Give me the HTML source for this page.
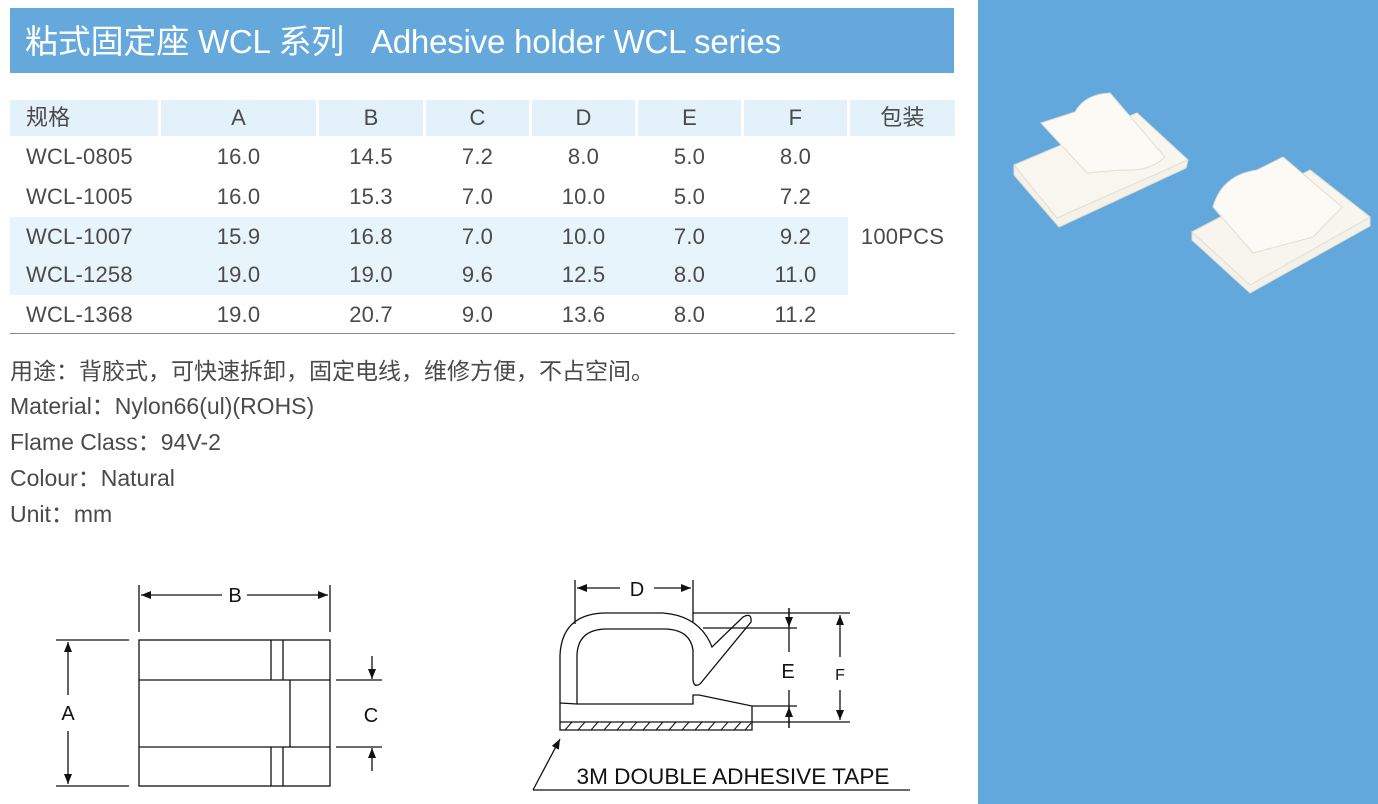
<!DOCTYPE html>
<html><head><meta charset="utf-8"><style>
*{margin:0;padding:0;box-sizing:border-box}
body{width:1378px;height:804px;background:#fff;position:relative;overflow:hidden;font-family:"Liberation Sans","Noto Sans CJK SC",sans-serif;color:#4a4a4a}
.a{position:absolute}
.t{position:absolute;font-size:22px;line-height:24px;text-align:center;color:#4a4a4a;letter-spacing:0.2px}
.hd{position:absolute;top:100px;height:36px;background:#e3f1fb}
.info{position:absolute;left:10px;font-size:23px;line-height:26px;color:#4a4a4a}
</style></head><body>
<div class="a" style="left:10px;top:8px;width:944px;height:65px;background:#65a9dc"></div>
<div class="a" style="left:25px;top:21px;font-size:33px;line-height:42px;color:#fff;white-space:pre;letter-spacing:-0.2px">粘式固定座 WCL 系列   Adhesive holder WCL series</div>
<div class="a" style="left:978px;top:0;width:400px;height:804px;background:#63a8dc"></div>

<div class="hd" style="left:10px;width:148px"></div>
<div class="hd" style="left:161px;width:155px"></div>
<div class="hd" style="left:319px;width:104px"></div>
<div class="hd" style="left:426px;width:103px"></div>
<div class="hd" style="left:532px;width:103px"></div>
<div class="hd" style="left:638px;width:103px"></div>
<div class="hd" style="left:744px;width:103px"></div>
<div class="hd" style="left:850px;width:105px"></div>
<div class="a" style="left:10px;top:217px;width:838px;height:78px;background:#e8f4fc"></div>
<div class="a" style="left:10px;top:333px;width:945px;height:1px;background:#888"></div>

<div id="tbl"></div>
<script>
var cols=[[10,148,'left'],[161,155],[319,104],[426,103],[532,103],[638,103],[744,103],[850,105]];
var rows=[[118,['规格','A','B','C','D','E','F','包装']],
[157,['WCL-0805','16.0','14.5','7.2','8.0','5.0','8.0','']],
[197,['WCL-1005','16.0','15.3','7.0','10.0','5.0','7.2','']],
[237,['WCL-1007','15.9','16.8','7.0','10.0','7.0','9.2','100PCS']],
[275,['WCL-1258','19.0','19.0','9.6','12.5','8.0','11.0','']],
[315,['WCL-1368','19.0','20.7','9.0','13.6','8.0','11.2','']]];
var h='';
rows.forEach(function(r){r[1].forEach(function(s,i){var c=cols[i];
var st=c[2]?'left:'+(c[0]+16)+'px;text-align:left;':'left:'+c[0]+'px;width:'+c[1]+'px;';
h+='<div class="t" style="'+st+'top:'+(r[0]-12)+'px">'+s+'</div>';});});
document.getElementById('tbl').innerHTML=h;
</script>

<div class="info" style="top:358px">用途：背胶式，可快速拆卸，固定电线，维修方便，不占空间。</div>
<div class="info" style="top:393px">Material：Nylon66(ul)(ROHS)</div>
<div class="info" style="top:429px">Flame Class：94V-2</div>
<div class="info" style="top:465px">Colour：Natural</div>
<div class="info" style="top:501px">Unit：mm</div>

<svg class="a" style="left:0;top:0" width="1378" height="804" viewBox="0 0 1378 804">
<defs><marker id="ar" markerWidth="10" markerHeight="8" refX="10" refY="4" orient="auto" markerUnits="userSpaceOnUse"><path d="M0,0 L10,4 L0,8 z" fill="#111"/></marker></defs>
<g stroke="#111" stroke-width="1.3" fill="none">
<rect x="139" y="640" width="191" height="146"/>
<line x1="139" y1="680" x2="330" y2="680"/><line x1="139" y1="747" x2="330" y2="747"/>
<line x1="271" y1="640" x2="271" y2="680"/><line x1="283" y1="640" x2="283" y2="680"/>
<line x1="271" y1="747" x2="271" y2="786"/><line x1="283" y1="747" x2="283" y2="786"/>
<line x1="290" y1="680" x2="290" y2="747"/>
<line x1="139" y1="585" x2="139" y2="632"/><line x1="330" y1="585" x2="330" y2="632"/>
<line x1="222" y1="595" x2="141" y2="595" marker-end="url(#ar)"/><line x1="247" y1="595" x2="328" y2="595" marker-end="url(#ar)"/>
<line x1="56" y1="640" x2="129" y2="640"/><line x1="56" y1="786" x2="129" y2="786"/>
<line x1="68" y1="695" x2="68" y2="642" marker-end="url(#ar)"/><line x1="68" y1="731" x2="68" y2="784" marker-end="url(#ar)"/>
<line x1="336" y1="680" x2="382" y2="680"/><line x1="336" y1="747" x2="382" y2="747"/>
<line x1="372" y1="656" x2="372" y2="679" marker-end="url(#ar)"/><line x1="372" y1="771" x2="372" y2="748" marker-end="url(#ar)"/>
<line x1="575" y1="580" x2="575" y2="624"/><line x1="693" y1="580" x2="693" y2="622"/>
<line x1="620" y1="588" x2="577" y2="588" marker-end="url(#ar)"/><line x1="654" y1="588" x2="691" y2="588" marker-end="url(#ar)"/>
<path d="M560,703 L560,655 Q562,614 605,613 L663,613 Q700,616 712,647 L743,617 Q752,612 751,622 L700,684 Q694,688 693,680 L693,650 Q690,630 666,629 L605,629 Q578,630 577,655 L577,704"/>
<path d="M560,703 L577,704 L693,704 L693,695 L699,695 L752,706 L752,730 L560,730 Z"/>
<line x1="560" y1="722" x2="752" y2="722"/>
<line x1="693" y1="613" x2="850" y2="613"/><line x1="703" y1="628" x2="797" y2="628"/>
<line x1="752" y1="706" x2="797" y2="706"/><line x1="752" y1="722" x2="850" y2="722"/>
<line x1="789" y1="608" x2="789" y2="627" marker-end="url(#ar)"/><line x1="789" y1="652" x2="789" y2="608"/>
<line x1="789" y1="690" x2="789" y2="728"/><line x1="789" y1="728" x2="789" y2="707" marker-end="url(#ar)"/>
<line x1="840" y1="657" x2="840" y2="615" marker-end="url(#ar)"/><line x1="840" y1="690" x2="840" y2="720" marker-end="url(#ar)"/>
<line x1="533" y1="790" x2="910" y2="790"/>
<line x1="533" y1="790" x2="560" y2="739" marker-end="url(#ar)"/>
</g>
<g stroke="#111" stroke-width="1">
<line x1="565" y1="730" x2="572" y2="722"/><line x1="578" y1="730" x2="585" y2="722"/><line x1="591" y1="730" x2="598" y2="722"/><line x1="604" y1="730" x2="611" y2="722"/><line x1="617" y1="730" x2="624" y2="722"/><line x1="630" y1="730" x2="637" y2="722"/><line x1="643" y1="730" x2="650" y2="722"/><line x1="656" y1="730" x2="663" y2="722"/><line x1="669" y1="730" x2="676" y2="722"/><line x1="682" y1="730" x2="689" y2="722"/><line x1="695" y1="730" x2="702" y2="722"/><line x1="708" y1="730" x2="715" y2="722"/><line x1="721" y1="730" x2="728" y2="722"/><line x1="734" y1="730" x2="741" y2="722"/><line x1="745" y1="730" x2="751" y2="723"/>
</g>
<g font-family="Liberation Sans, sans-serif" fill="#111" text-anchor="middle">
<text x="235" y="602" font-size="20">B</text>
<text x="68" y="720" font-size="20">A</text>
<text x="371" y="722" font-size="20">C</text>
<text x="637" y="596" font-size="20">D</text>
<text x="788" y="678" font-size="20">E</text>
<text x="840" y="680" font-size="16">F</text>
<text x="733" y="784" font-size="22" textLength="313" lengthAdjust="spacingAndGlyphs">3M DOUBLE ADHESIVE TAPE</text>
</g>
<g fill="#f3f1e8" stroke="#e2dfd2" stroke-width="1">
<polygon points="1014,165 1137,113 1188,160 1186,168 1059,227 1014,175"/>
<polygon points="1014,165 1137,113 1188,160 1057,218" fill="#f8f6ee"/>
<path d="M1041,123 L1075,112 Q1085,94 1110,93 L1165,157 Q1150,172 1120,170 L1087,173 Z" fill="#fbfaf5"/>
<polygon points="1192,232 1310,170 1370,217 1370,226 1250,293 1192,240"/>
<polygon points="1192,232 1310,170 1370,217 1250,285" fill="#f7f5ed"/>
<path d="M1213,207 Q1222,175 1257,170 L1283,157 L1342,207 L1313,237 L1253,253 Z" fill="#fbfaf5"/>
</g>
</svg>
</body></html>
